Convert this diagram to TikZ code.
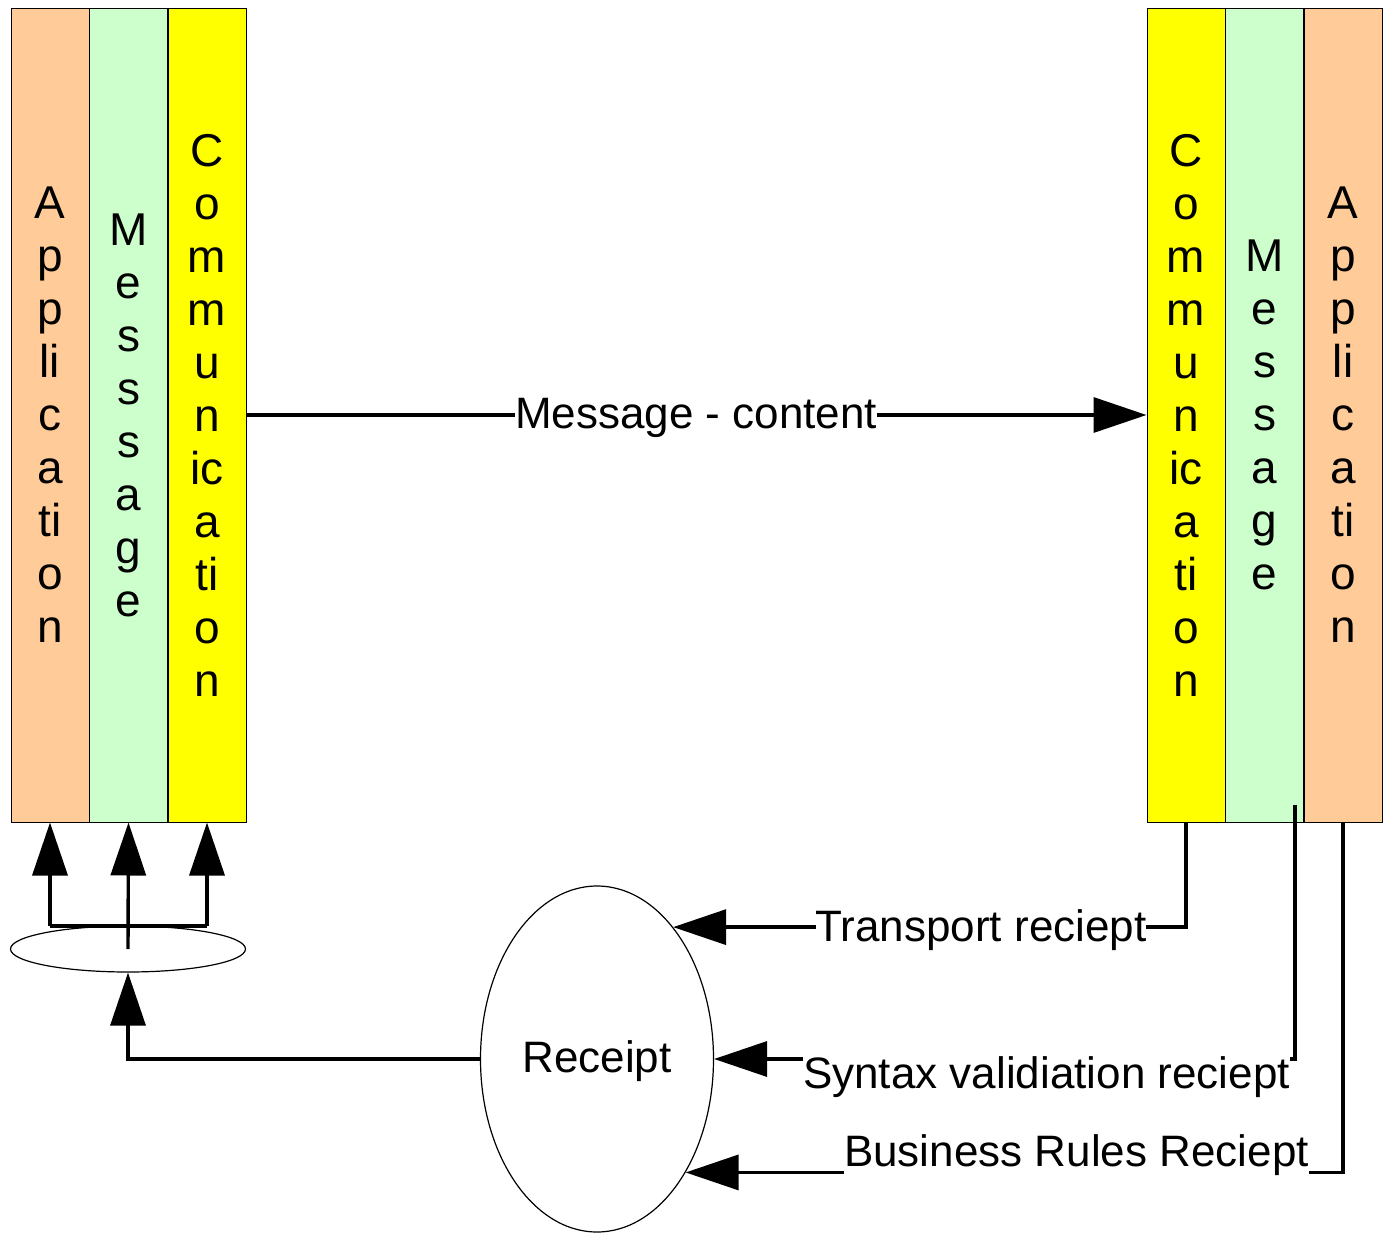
\documentclass[tikz,border=0pt]{standalone}
\usepackage{fontspec}
\setmainfont{Liberation Sans}
\usetikzlibrary{arrows.meta,shapes.geometric}
\definecolor{appc}{HTML}{FFCC99}
\definecolor{msgc}{HTML}{CCFFCC}
\definecolor{comc}{HTML}{FFFF00}
\begin{document}
\begin{tikzpicture}[x=0.5pt,y=-0.5pt,
  col/.style={draw=black,line width=0.5pt,minimum width=39pt,minimum height=407pt,inner sep=0pt,align=center,font=\fontsize{23pt}{26.5pt}\selectfont},
  conn/.style={line width=1.7pt},
  arr/.style={conn,-{Triangle[length=26.5pt,width=17.5pt]}},
  lbl/.style={fill=white,inner xsep=0pt,inner ysep=2pt,font=\fontsize{22pt}{26pt}\selectfont},
  oval/.style={ellipse,draw=black,line width=0.6pt,inner sep=0pt}]
\useasboundingbox (0,0) rectangle (1383,1237);
% left stack
\node[col,fill=appc] (AL) at (50,415) {A\\p\\p\\li\\c\\a\\ti\\o\\n};
\node[col,fill=msgc] (ML) at (128.5,415) {M\\e\\s\\s\\s\\a\\g\\e};
\node[col,fill=comc] (CL) at (207,415) {C\\o\\m\\m\\u\\n\\ic\\a\\ti\\o\\n};
% right stack
\node[col,fill=comc] (CR) at (1186,415) {C\\o\\m\\m\\u\\n\\ic\\a\\ti\\o\\n};
\node[col,fill=msgc] (MR) at (1264.5,415) {M\\e\\s\\s\\a\\g\\e};
\node[col,fill=appc] (AR) at (1343,415) {A\\p\\p\\li\\c\\a\\ti\\o\\n};
% ellipses
\node[oval,minimum width=117.5pt,minimum height=23pt] (S) at (128,949) {};
\node[oval,minimum width=116.5pt,minimum height=173pt] (R) at (597,1059) {};
\node[font=\fontsize{22pt}{26pt}\selectfont,inner sep=0pt] (rt) at (597,1061) {Receipt};
% main message
\draw[arr] (CL.east) -- (CR.west);
\node[lbl] (mc) at (696,418) {Message - content};
% left fan
\coordinate (j1) at (50,926);
\coordinate (j2) at (207,926);
\draw[conn] (j1) -- (j2);
\draw[arr] (j1) -- (AL.south);
\draw[arr] (j2) -- (CL.south);
\draw[arr] (S.center) -- (ML.south);
\draw[arr] (R.west) -| (S.south);
% receipts
\draw[arr] (CR.south) |- (R.60);
\node[lbl] (tr) at (981,930) {Transport reciept};
\coordinate (sv) at (1295,805);
\draw[arr] (sv) |- (R.east);
\node[lbl] (sr) at (1046.5,1077) {Syntax validiation reciept};
\draw[arr] (AR.south) |- (R.-52);
\node[lbl] (br) at (1076.5,1155) {Business Rules Reciept};
\end{tikzpicture}
\end{document}
